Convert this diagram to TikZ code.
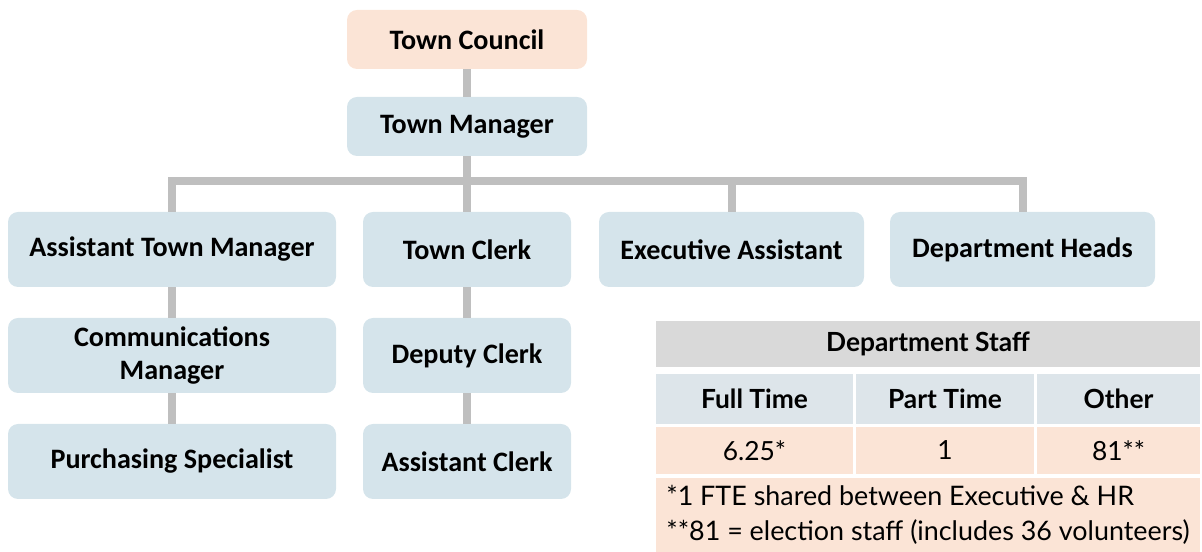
\documentclass[tikz,border=0pt]{standalone}
\usepackage{fontspec}
\setmainfont{Carlito}
\newfontfamily\tablefont{Lato}

\definecolor{boxblue}{HTML}{D5E4EB}
\definecolor{boxpeach}{HTML}{FBE4D6}
\definecolor{rowgray}{HTML}{D9D9D9}
\definecolor{rowblue}{HTML}{DDE5EA}
\definecolor{linkgray}{HTML}{BFBFBF}

\tikzset{
  orgbox/.style={rectangle, rounded corners=0.2cm, fill=boxblue, inner sep=0pt,
    minimum height=1.5cm, align=center,
    font=\fontsize{16}{18.8}\selectfont\bfseries},
  link/.style={draw=linkgray, line width=0.16cm},
  cell/.style={rectangle, inner sep=0pt, align=center,
    font=\tablefont\fontsize{15}{17}\selectfont},
  headcell/.style={cell, font=\tablefont\fontsize{15}{17}\selectfont\bfseries},
}

\begin{document}
\begin{tikzpicture}
\useasboundingbox (0,0) rectangle (24.04,-11.04);

% chart boxes
\node[orgbox, fill=boxpeach, minimum width=4.8cm, minimum height=1.18cm] (council) at (9.34,-0.79) {Town Council};
\node[orgbox, minimum width=4.8cm, minimum height=1.18cm] (manager) at (9.34,-2.53) {Town Manager};
\node[orgbox, minimum width=6.56cm] (asst) at (3.44,-4.99) {Assistant Town Manager};
\node[orgbox, minimum width=4.16cm] (clerk) at (9.34,-4.99) {Town Clerk};
\node[orgbox, minimum width=5.3cm] (exec) at (14.63,-4.99) {Executive Assistant};
\node[orgbox, minimum width=5.3cm] (heads) at (20.45,-4.99) {Department Heads};
\node[orgbox, minimum width=6.56cm] (comms) at (3.44,-7.11) {Communications\\Manager};
\node[orgbox, minimum width=4.16cm] (deputy) at (9.34,-7.11) {Deputy Clerk};
\node[orgbox, minimum width=6.56cm] (purch) at (3.44,-9.23) {Purchasing Specialist};
\node[orgbox, minimum width=4.16cm] (aclerk) at (9.34,-9.23) {Assistant Clerk};

% reporting lines
\coordinate (bus) at (9.34,-3.62);
\draw[link] (council) -- (manager);
\draw[link] (manager) -- (clerk);
\draw[link] (asst.north) |- (bus) -| (heads.north);
\draw[link] (exec.north) -- (exec.north |- bus);
\draw[link] (asst) -- (comms);
\draw[link] (comms) -- (purch);
\draw[link] (clerk) -- (deputy);
\draw[link] (deputy) -- (aclerk);

% staff table
\node[headcell, fill=rowgray, minimum width=10.88cm, minimum height=0.92cm] (staff) at (18.56,-6.88) {Department Staff};
\node[headcell, fill=rowblue, minimum width=3.94cm, minimum height=1.0cm] (full) at (15.09,-7.98) {Full Time};
\node[headcell, fill=rowblue, minimum width=3.56cm, minimum height=1.0cm] (part) at (18.90,-7.98) {Part Time};
\node[headcell, fill=rowblue, minimum width=3.26cm, minimum height=1.0cm] (other) at (22.37,-7.98) {Other};
\node[cell, fill=boxpeach, minimum width=3.94cm, minimum height=0.94cm] (fullnum) at (15.09,-9.01) {6.25*};
\node[cell, fill=boxpeach, minimum width=3.56cm, minimum height=0.94cm] (partnum) at (18.90,-9.01) {1};
\node[cell, fill=boxpeach, minimum width=3.26cm, minimum height=0.94cm] (othernum) at (22.37,-9.01) {81**};
\node[cell, fill=boxpeach, minimum width=10.88cm, minimum height=1.48cm, align=left,
  font=\tablefont\fontsize{15.3}{19.8}\selectfont] (notes) at (18.56,-10.30)
  {*1 FTE shared between Executive \& HR\\{}**81 = election staff (includes 36 volunteers)};
\end{tikzpicture}
\end{document}
